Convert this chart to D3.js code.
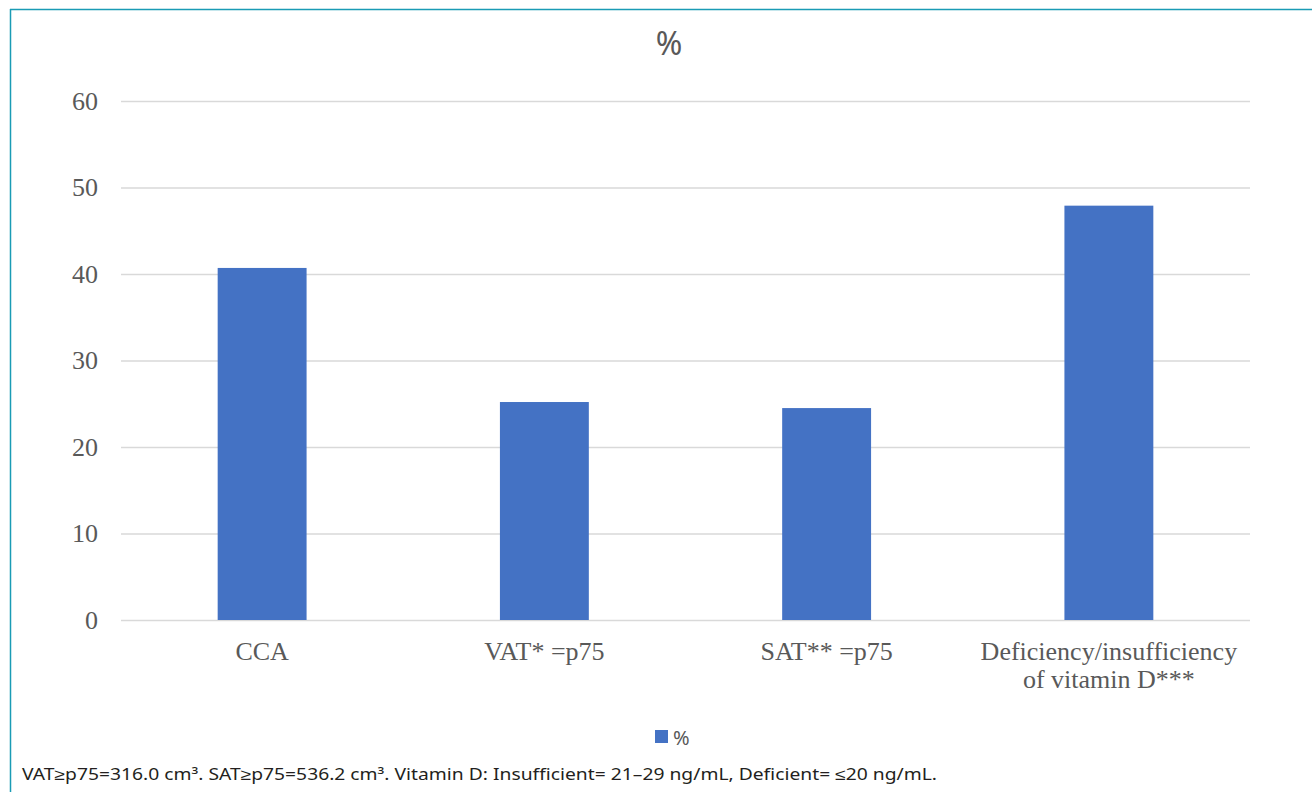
<!DOCTYPE html>
<html>
<head>
<meta charset="utf-8">
<script src="https://cdn.jsdelivr.net/npm/d3@7"></script>
<style>
  html, body { margin: 0; padding: 0; background: #fff; }
  svg { display: block; }
</style>
</head>
<body>
<svg id="chart" width="1312" height="792"></svg>
<script>
const categories = ['CCA', 'VAT* =p75', 'SAT** =p75', 'Deficiency/insufficiency\nof vitamin D***'];
const values = [40.7, 25.2, 24.5, 47.9];
const yTicks = [0, 10, 20, 30, 40, 50, 60];
const seriesName = '%';
const footnote = 'VAT≥p75=316.0 cm³. SAT≥p75=536.2 cm³. Vitamin D: Insufficient= 21–29 ng/mL, Deficient= ≤20 ng/mL.';

const W = 1312, H = 792;
const margin = { top: 101, right: 62, bottom: 172, left: 121 };
const innerW = W - margin.left - margin.right;
const innerH = H - margin.top - margin.bottom;

const svg = d3.select('#chart');

// frame lines (top + left)
svg.append('line').attr('x1', 10).attr('x2', W).attr('y1', 9.5).attr('y2', 9.5)
  .attr('stroke', '#1a9bb5').attr('stroke-width', 1.5);
svg.append('line').attr('x1', 10.5).attr('x2', 10.5).attr('y1', 9).attr('y2', H)
  .attr('stroke', '#1a9bb5').attr('stroke-width', 1.5);

const x = d3.scaleBand().domain(categories).range([0, innerW]).paddingInner(0.685).paddingOuter(0.3425);
const y = d3.scaleLinear().domain([0, 60]).range([innerH, 0]);

const g = svg.append('g').attr('transform', `translate(${margin.left},${margin.top})`);

// gridlines
g.append('g')
  .call(d3.axisLeft(y).tickValues(yTicks).tickSize(-innerW).tickFormat(''))
  .call(a => a.select('.domain').remove())
  .call(a => a.selectAll('line').attr('stroke', '#d9d9d9').attr('stroke-width', 1.3));

// y tick labels
g.append('g')
  .call(d3.axisLeft(y).tickValues(yTicks).tickSize(0).tickPadding(23))
  .call(a => a.select('.domain').remove())
  .call(a => a.selectAll('text')
    .attr('fill', '#595959')
    .attr('font-family', '"Liberation Serif", serif')
    .attr('font-size', 26));

// bars
g.selectAll('rect.bar').data(categories).join('rect')
  .attr('class', 'bar')
  .attr('x', d => x(d))
  .attr('width', x.bandwidth())
  .attr('y', (d, i) => y(values[i]))
  .attr('height', (d, i) => innerH - y(values[i]))
  .attr('fill', '#4472c4');

// x labels
const xl = g.append('g').attr('transform', `translate(0,${innerH})`);
categories.forEach(c => {
  const t = xl.append('text')
    .attr('x', x(c) + x.bandwidth() / 2)
    .attr('y', 40)
    .attr('text-anchor', 'middle')
    .attr('fill', '#595959')
    .attr('font-family', '"Liberation Serif", serif')
    .attr('font-size', 26);
  c.split('\n').forEach((line, i) => {
    t.append('tspan').attr('x', x(c) + x.bandwidth() / 2).attr('dy', i ? 28 : 0).text(line);
  });
});

// title
svg.append('text')
  .attr('x', 669).attr('y', 55)
  .attr('text-anchor', 'middle')
  .attr('fill', '#595959')
  .attr('font-family', '"Noto Sans", sans-serif')
  .attr('font-size', 32)
  .text(seriesName);

// legend
svg.append('rect').attr('x', 655).attr('y', 730).attr('width', 13).attr('height', 13).attr('fill', '#4472c4');
svg.append('text')
  .attr('x', 673).attr('y', 745)
  .attr('fill', '#595959')
  .attr('font-family', '"Noto Sans", sans-serif')
  .attr('font-size', 20)
  .text(seriesName);

// footnote
svg.append('text')
  .attr('x', 22).attr('y', 780)
  .attr('fill', '#231f20')
  .attr('font-family', '"Noto Sans", sans-serif')
  .attr('font-size', 16)
  .attr('textLength', 915)
  .attr('lengthAdjust', 'spacingAndGlyphs')
  .text(footnote);
</script>
</body>
</html>
